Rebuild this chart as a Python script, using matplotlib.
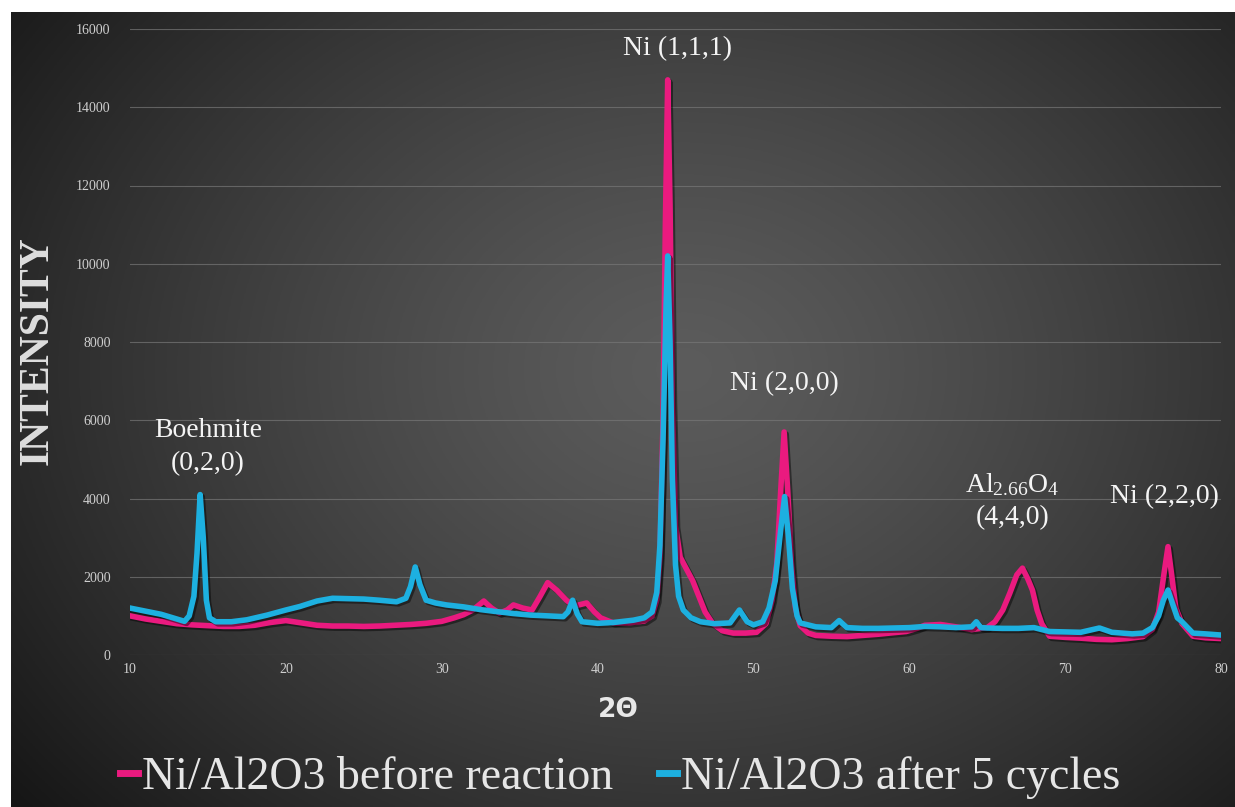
import numpy as np
import matplotlib
matplotlib.use('Agg')
import matplotlib.pyplot as plt
import matplotlib.patheffects as pe

plt.rcParams['mathtext.fontset'] = 'custom'
plt.rcParams['mathtext.rm'] = 'Liberation Serif'
plt.rcParams['mathtext.it'] = 'Liberation Serif:italic'

# 2-theta / intensity
before_x = [10, 11, 12, 13, 14, 15, 16, 17, 18, 19, 20, 21, 22, 23, 24, 25, 26, 27, 28, 29, 30,
            30.8, 31.4, 32.0, 32.7, 33.2, 33.7, 34.2, 34.6, 35.2, 35.8, 36.3, 36.8, 37.4, 38.0,
            38.5, 39.0, 39.3, 39.8, 40.2, 41.0, 42.0, 43.0, 43.5, 43.8, 44.0, 44.2, 44.35, 44.5,
            44.65, 44.8, 45.0, 45.3, 45.7, 46.1, 46.5, 46.9, 47.4, 48.0, 48.7, 49.5, 50.2, 50.8,
            51.2, 51.5, 51.75, 51.97, 52.2, 52.45, 52.7, 53.0, 53.5, 54, 55, 56, 57, 58, 59, 59.8,
            60.5, 61, 62, 63, 64, 65, 65.5, 66.0, 66.45, 66.9, 67.26, 67.6, 67.9, 68.2, 68.5, 69,
            70, 71, 72, 73, 74, 75, 75.6, 76.0, 76.35, 76.6, 76.85, 77.1, 77.5, 78.2, 79, 80]
before_y = [1000, 920, 860, 800, 770, 750, 730, 730, 760, 830, 880, 820, 760, 740, 740, 730, 740,
            760, 780, 810, 860, 950, 1030, 1150, 1380, 1200, 1070, 1150, 1280, 1200, 1150, 1490,
            1850, 1650, 1400, 1250, 1300, 1330, 1100, 950, 820, 820, 870, 1000, 1400, 2500, 6000,
            11000, 14700, 11500, 6500, 3300, 2500, 2200, 1900, 1500, 1100, 800, 620, 560, 560, 580,
            800, 1400, 2350, 4200, 5700, 4200, 2300, 1200, 750, 560, 500, 480, 470, 500, 530, 570,
            600, 680, 760, 780, 720, 650, 700, 850, 1150, 1580, 2050, 2220, 1950, 1660, 1150, 800,
            480, 450, 430, 400, 390, 420, 470, 650, 1100, 2100, 2770, 2000, 1200, 800, 480, 440, 420]

after_x = [10, 11, 12, 13, 13.5, 13.8, 14.1, 14.3, 14.5, 14.7, 14.9, 15.1, 15.5, 16.5, 17.5, 18.8,
           20.0, 20.9, 22, 23, 24, 25, 26, 27.1, 27.7, 28.0, 28.3, 28.6, 29.0, 29.6, 30.3, 31.4,
           32.5, 33.5, 34.6, 35.7, 36.8, 37.8, 38.1, 38.4, 38.7, 39.0, 40, 41, 42.3, 43.0, 43.5,
           43.8, 44.0, 44.2, 44.4, 44.5, 44.65, 44.8, 45.0, 45.2, 45.5, 46.0, 46.6, 47.5, 48.5,
           49.1, 49.6, 50.0, 50.6, 51.0, 51.4, 51.75, 52.0, 52.25, 52.5, 52.8, 53.0, 54, 55, 55.5,
           56, 57, 58, 59, 60, 61, 62, 63, 64, 64.3, 64.6, 65, 66, 67, 68, 68.5, 69, 70, 71, 72.2,
           73, 74.3, 75, 75.6, 76.0, 76.3, 76.6, 76.9, 77.2, 77.5, 78.2, 79, 80]
after_y = [1200, 1120, 1040, 920, 860, 1000, 1500, 2600, 4100, 3000, 1400, 950, 850, 850, 900,
           1020, 1150, 1240, 1380, 1450, 1440, 1430, 1400, 1360, 1450, 1750, 2250, 1800, 1400,
           1330, 1280, 1230, 1160, 1110, 1060, 1020, 1000, 980, 1100, 1400, 1050, 850, 810, 830,
           890, 950, 1100, 1600, 2800, 5500, 9000, 10200, 8000, 4500, 2300, 1500, 1150, 950, 850,
           800, 820, 1150, 850, 770, 850, 1200, 1900, 3200, 4050, 3000, 1700, 1000, 820, 720, 700,
           880, 700, 680, 680, 690, 700, 730, 720, 700, 720, 850, 700, 690, 680, 680, 700, 650,
           600, 590, 580, 690, 580, 540, 560, 700, 1000, 1400, 1660, 1300, 950, 850, 560, 540, 510]

x_ticks = [10, 20, 30, 40, 50, 60, 70, 80]
y_ticks = [0, 2000, 4000, 6000, 8000, 10000, 12000, 14000, 16000]

pink = '#ea1a7f'
cyan = '#1db0e0'

W, H = 1235, 807
fig = plt.figure(figsize=(W / 100, H / 100), dpi=100, facecolor='white')

# dark radial background
bg = fig.add_axes([11 / W, 0, (W - 11) / W, (H - 12) / H])
gx, gy = np.meshgrid(np.linspace(0, 1, 400), np.linspace(0, 1, 300))
r = np.sqrt(((gx - 0.55) / 0.62) ** 2 + ((gy - 0.45) / 0.75) ** 2)
shade = 0.36 - 0.23 * np.clip(r, 0, 1.2) ** 1.3
bg.imshow(np.dstack([shade] * 3), aspect='auto', extent=[0, 1, 0, 1], origin='upper')
bg.axis('off')

ax = fig.add_axes([130 / W, (H - 655) / H, 1091 / W, 626 / H])
ax.set_facecolor('none')

shadow = [pe.SimpleLineShadow(offset=(1.5, -1.5), shadow_color='black', alpha=0.45), pe.Normal()]
ax.plot(before_x, before_y, color=pink, lw=4, label='Ni/Al2O3 before reaction',
        solid_joinstyle='round', path_effects=shadow)
ax.plot(after_x, after_y, color=cyan, lw=4, label='Ni/Al2O3 after 5 cycles',
        solid_joinstyle='round', path_effects=shadow)

ax.set_xlim(10, 80)
ax.set_ylim(0, 16000)
ax.set_xticks(x_ticks)
ax.set_yticks(y_ticks)
for s in ax.spines.values():
    s.set_visible(False)
ax.grid(axis='y', color='#777777', lw=0.8, alpha=0.7)
ax.set_axisbelow(True)
ax.tick_params(length=0, colors='#cfcfcf', labelsize=10)
ax.tick_params(axis='y', pad=14)
ax.tick_params(axis='x', pad=6)
for lab in ax.get_xticklabels() + ax.get_yticklabels():
    lab.set_family('Liberation Serif')

txt = dict(ha='center', va='center', color='#f4f4f4', family='Liberation Serif', fontsize=20)
ax.text(45.1, 15500, 'Ni (1,1,1)', **txt)
ax.text(52.0, 6930, 'Ni (2,0,0)', **txt)
ax.text(15.0, 5750, 'Boehmite', **txt)
ax.text(15.0, 4900, '(0,2,0)', **txt)
ax.text(66.6, 4350, r'$\mathrm{Al}_{2.66}\mathrm{O}_4$', **txt)
ax.text(66.6, 3500, '(4,4,0)', **txt)
ax.text(76.4, 4060, 'Ni (2,2,0)', **txt)

fig.text(38 / W, 1 - 351 / H, 'INTENSITY', rotation=90, ha='center', va='center',
         color='#dedede', family='Liberation Serif', fontweight='bold', fontsize=30)
fig.text(618 / W, 1 - 710 / H, '2Θ', ha='center', va='center', color='#e8e8e8',
         family='DejaVu Sans', fontweight='bold', fontsize=19)

leg = fig.legend(loc='center', bbox_to_anchor=(620 / W, 1 - 778 / H), ncol=2, frameon=False,
                 handlelength=0.4, handletextpad=0.08, columnspacing=1.0,
                 prop={'family': 'Liberation Serif', 'size': 33})
for t in leg.get_texts():
    t.set_color('#e6e6e6')
for h in leg.legend_handles:
    h.set_linewidth(5)
    h.set_path_effects([])

fig.savefig('out.png', dpi=100, facecolor='white')
